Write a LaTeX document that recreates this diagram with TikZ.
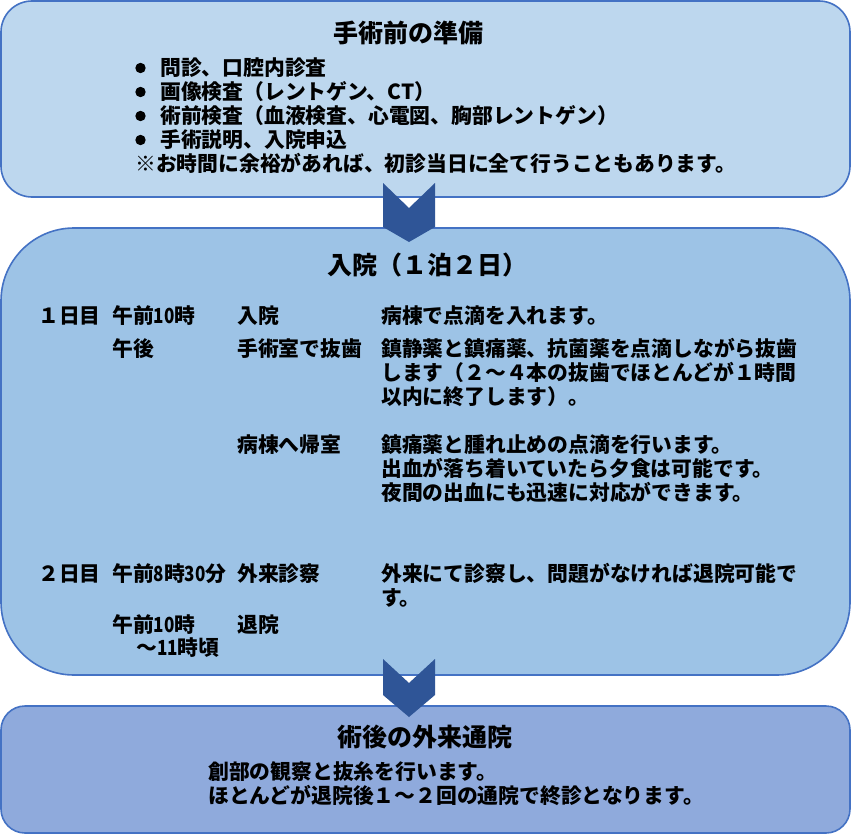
\documentclass[tikz,border=0pt]{standalone}
\usepackage{fontspec}
\newfontfamily\jp{Noto Sans CJK JP}
\newcommand\narrowdg[1]{\scalebox{0.82}[1]{#1}}
\definecolor{fillA}{HTML}{BDD7EE}
\definecolor{fillB}{HTML}{9DC3E6}
\definecolor{fillC}{HTML}{8FAADC}
\definecolor{edgeC}{HTML}{4472C4}
\definecolor{chevC}{HTML}{2F5597}
\tikzset{
  stagebox/.style={draw=edgeC, line width=1.6pt},
  tx/.style={anchor=west, inner sep=0pt, font=\jp\bfseries\fontsize{20.8}{24}\selectfont, text height=18.3pt, text depth=2.5pt},
  ttl/.style={anchor=west, inner sep=0pt, font=\jp\bfseries\fontsize{25}{29}\selectfont, text height=22pt, text depth=3pt},
  chev/.style={fill=chevC},
}
\begin{document}
\begin{tikzpicture}[x=1pt,y=-1pt]
\useasboundingbox (0,0) rectangle (852,835);
\fill[white] (0,0) rectangle (852,835);
% boxes
\draw[stagebox, fill=fillA, rounded corners=31pt] (1,1) rectangle (850,197);
\draw[stagebox, fill=fillB, rounded corners=73pt] (1,228) rectangle (850,675);
\draw[stagebox, fill=fillC, rounded corners=24pt] (1,706) rectangle (850,833);
% chevrons
\fill[chev] (383,183) -- (409,208) -- (435,183) -- (435,227) -- (409,242) -- (383,227) -- cycle;
\fill[chev] (383,659) -- (409,683) -- (435,659) -- (435,695) -- (409,717) -- (383,695) -- cycle;

% top box
\node[ttl] (t1) at (333,33) {手術前の準備};
\foreach \yy in {68,92,116,140} \fill (140.5,\yy) circle (5.2pt);
\node[tx] (a1) at (160,68) {問診、口腔内診査};
\node[tx] (a2) at (160,92) {画像検査（レントゲン、CT）};
\node[tx] (a3) at (160,116) {術前検査（血液検査、心電図、胸部レントゲン）};
\node[tx] (a4) at (160,140) {手術説明、入院申込};
\node[tx] (a5) at (135,164) {※お時間に余裕があれば、初診当日に全て行うこともあります。};

% middle box
\node[ttl] (t2) at (327,265) {入院（１泊２日）};
\node[tx] (d1) at (38,316) {１日目};
\node[tx] (b1) at (112,316) {午前\narrowdg{10}時};
\node[tx] (c1) at (237,316) {入院};
\node[tx] (e1) at (381,316) {病棟で点滴を入れます。};
\node[tx] (b2) at (112,349) {午後};
\node[tx] (c2) at (237,349) {手術室で抜歯};
\node[tx] (e2) at (381,349) {鎮静薬と鎮痛薬、抗菌薬を点滴しながら抜歯};
\node[tx] (e3) at (381,373) {します（２～４本の抜歯でほとんどが１時間};
\node[tx] (e4) at (381,397) {以内に終了します）。};
\node[tx] (c3) at (237,445) {病棟へ帰室};
\node[tx] (e5) at (381,445) {鎮痛薬と腫れ止めの点滴を行います。};
\node[tx] (e6) at (381,469) {出血が落ち着いていたら夕食は可能です。};
\node[tx] (e7) at (381,493) {夜間の出血にも迅速に対応ができます。};
\node[tx] (d2) at (38,574) {２日目};
\node[tx] (b3) at (112,574) {午前\narrowdg{8}時\narrowdg{30}分};
\node[tx] (c4) at (237,574) {外来診察};
\node[tx] (e8) at (381,574) {外来にて診察し、問題がなければ退院可能で};
\node[tx] (e9) at (381,598) {す。};
\node[tx] (b4) at (112,625) {午前\narrowdg{10}時};
\node[tx] (b5) at (136,648) {～\narrowdg{11}時頃};
\node[tx] (c5) at (237,625) {退院};

% bottom box
\node[ttl] (t3) at (337,737) {術後の外来通院};
\node[tx] (f1) at (208,772) {創部の観察と抜糸を行います。};
\node[tx] (f2) at (208,796) {ほとんどが退院後１～２回の通院で終診となります。};
\end{tikzpicture}
\end{document}
